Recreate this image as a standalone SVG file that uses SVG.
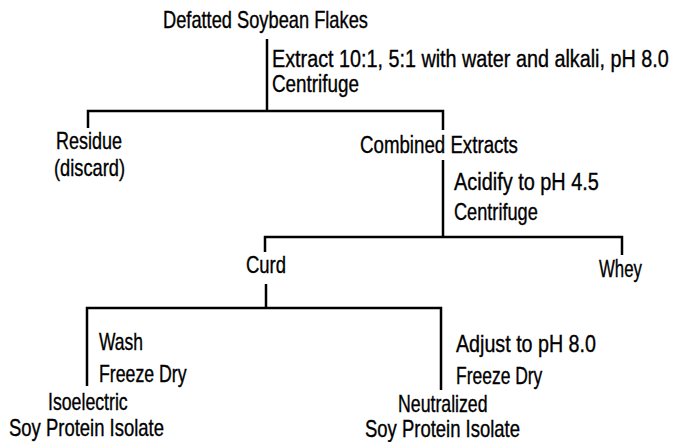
<svg xmlns="http://www.w3.org/2000/svg" width="687" height="442" viewBox="0 0 687 442">
<style>
text{font-family:"Liberation Sans","Arimo",sans-serif;font-size:23px;fill:#000;stroke:#000;stroke-width:0.35}
.ln{fill:none;stroke:#000;stroke-width:2.5}
</style>
<rect width="687" height="442" fill="#fff"/>
<g id="connectors">
<path class="ln" d="M267,39 V112"/>
<path class="ln" d="M88,128 V111 H443 V130"/>
<path class="ln" d="M443,160 V238"/>
<path class="ln" d="M265,252 V237 H622 V255"/>
<path class="ln" d="M266,284 V308"/>
<path class="ln" d="M87,386 V308 H441 V390"/>
</g>
<g id="flakes"><text transform="translate(163,28) scale(0.794,1)">Defatted Soybean Flakes</text></g>
<g id="step1"><text transform="translate(272,67) scale(0.86,1)">Extract 10:1, 5:1 with water and alkali, pH 8.0</text><text transform="translate(272,92) scale(0.82,1)">Centrifuge</text></g>
<g id="residue"><text transform="translate(56,149) scale(0.782,1)">Residue</text><text transform="translate(54,176) scale(0.794,1)">(discard)</text></g>
<g id="combined"><text transform="translate(360,153) scale(0.813,1)">Combined Extracts</text></g>
<g id="step2"><text transform="translate(454,190) scale(0.866,1)">Acidify to pH 4.5</text><text transform="translate(454,220) scale(0.79,1)">Centrifuge</text></g>
<g id="curd"><text transform="translate(246,273) scale(0.803,1)">Curd</text></g>
<g id="whey"><text transform="translate(599,277) scale(0.73,1)">Whey</text></g>
<g id="step3"><text transform="translate(99,350) scale(0.76,1)">Wash</text><text transform="translate(99,382) scale(0.77,1)">Freeze Dry</text></g>
<g id="step4"><text transform="translate(456,352) scale(0.856,1)">Adjust to pH 8.0</text><text transform="translate(456,384) scale(0.76,1)">Freeze Dry</text></g>
<g id="isoelectric"><text transform="translate(48,410) scale(0.77,1)">Isoelectric</text><text transform="translate(9,436) scale(0.803,1)">Soy Protein Isolate</text></g>
<g id="neutralized"><text transform="translate(398,412) scale(0.77,1)">Neutralized</text><text transform="translate(365,437) scale(0.803,1)">Soy Protein Isolate</text></g>
</svg>
